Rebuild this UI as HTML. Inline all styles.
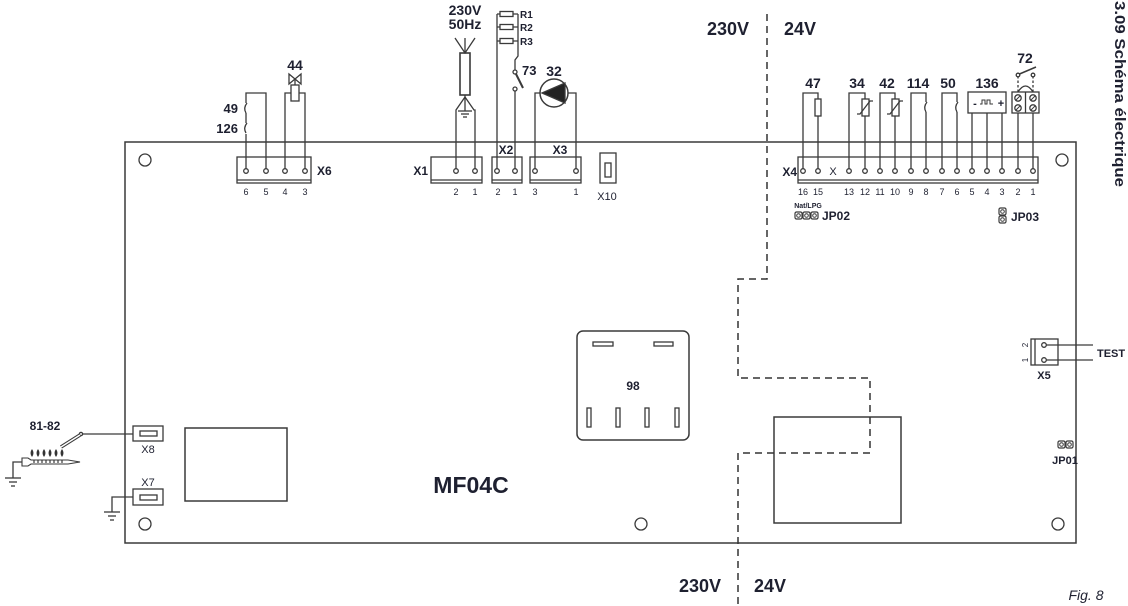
<!DOCTYPE html>
<html><head><meta charset="utf-8"><style>
html,body{margin:0;padding:0;background:#fff;}
svg{display:block;}
text{font-family:"Liberation Sans",Arial,sans-serif;fill:#1e2030;}
.b{font-weight:bold;}
.n{font-size:9px;fill:#2a2f48;}
</style></head><body>
<svg width="1128" height="606" viewBox="0 0 1128 606" xmlns="http://www.w3.org/2000/svg">
<g fill="none" stroke="#3a3a3a" stroke-width="1.3">
<!-- board -->
<rect x="125" y="142" width="951" height="401" stroke-width="1.5"/>
<circle cx="145" cy="160" r="6"/>
<circle cx="1062" cy="160" r="6"/>
<circle cx="145" cy="524" r="6"/>
<circle cx="641" cy="524" r="6"/>
<circle cx="1058" cy="524" r="6"/>

<!-- X6 -->
<rect x="237" y="157" width="74" height="26"/>
<line x1="237" y1="180" x2="311" y2="180"/>
<circle cx="246" cy="171" r="2.3"/><circle cx="266" cy="171" r="2.3"/><circle cx="285" cy="171" r="2.3"/><circle cx="305" cy="171" r="2.3"/>
<polyline points="246,168.5 246,134"/>
<polyline points="246,123 246,113"/>
<polyline points="246,103 246,93 266,93 266,168.5"/>
<path d="M247,103 q-4,5 -1,10"/>
<path d="M247,123 q-4,5 -1,10"/>
<polyline points="285,168.5 285,93 305,93 305,168.5"/>
<rect x="291" y="85" width="8" height="16" fill="#fff"/>
<line x1="295" y1="79" x2="295" y2="85"/>
<path d="M289,74 L301,84 L301,74 L289,84 Z"/>

<!-- X1 -->
<rect x="431" y="157" width="51" height="26"/>
<line x1="431" y1="180" x2="482" y2="180"/>
<circle cx="456" cy="171" r="2.3"/><circle cx="475" cy="171" r="2.3"/>
<polyline points="456,168.5 456,110 465,97 474,110 475,110 475,168.5"/>
<line x1="465" y1="97" x2="465" y2="111"/>
<line x1="458" y1="111" x2="472" y2="111"/>
<line x1="461" y1="114" x2="469" y2="114"/>
<line x1="463" y1="117" x2="467" y2="117"/>
<rect x="460" y="53" width="10" height="42" stroke-width="1.6"/>
<line x1="465" y1="95" x2="465" y2="97"/>
<polyline points="455,38 465,53 475,38"/>
<line x1="465" y1="38" x2="465" y2="53"/>

<!-- X2 -->
<rect x="492" y="157" width="30" height="26"/>
<line x1="492" y1="180" x2="522" y2="180"/>
<circle cx="497" cy="171" r="2.3"/><circle cx="515" cy="171" r="2.3"/>
<polyline points="497,168.5 497,14"/>
<line x1="497" y1="14" x2="518" y2="14"/>
<line x1="497" y1="27" x2="518" y2="27"/>
<line x1="497" y1="41" x2="518" y2="41"/>
<rect x="500" y="11.5" width="13" height="5" fill="#fff"/>
<rect x="500" y="24.5" width="13" height="5" fill="#fff"/>
<rect x="500" y="38.5" width="13" height="5" fill="#fff"/>
<polyline points="518,14 518,56 515,60 515,70"/>
<circle cx="515" cy="72" r="2"/>
<line x1="516" y1="74" x2="523" y2="88" stroke-width="2"/>
<circle cx="515" cy="89" r="2"/>
<line x1="515" y1="91" x2="515" y2="168.5"/>

<!-- X3 -->
<rect x="530" y="157" width="51" height="26"/>
<line x1="530" y1="180" x2="581" y2="180"/>
<circle cx="535" cy="171" r="2.3"/><circle cx="576" cy="171" r="2.3"/>
<polyline points="535,168.5 535,93 540,93"/>
<polyline points="568,93 576,93 576,168.5"/>
<circle cx="554" cy="93" r="14" stroke-width="1.5"/>
<polygon points="542,93 565,83 565,103" fill="#222"/>

<!-- X10 -->
<rect x="600" y="153" width="16" height="30"/>
<rect x="605" y="163" width="6" height="14"/>

<!-- X4 -->
<rect x="798" y="157" width="240" height="26"/>
<line x1="798" y1="180" x2="1038" y2="180"/>
<circle cx="803" cy="171" r="2.3"/><circle cx="818" cy="171" r="2.3"/>
<circle cx="849" cy="171" r="2.3"/><circle cx="865" cy="171" r="2.3"/>
<circle cx="880" cy="171" r="2.3"/><circle cx="895" cy="171" r="2.3"/>
<circle cx="911" cy="171" r="2.3"/><circle cx="926" cy="171" r="2.3"/>
<circle cx="942" cy="171" r="2.3"/><circle cx="957" cy="171" r="2.3"/>
<circle cx="972" cy="171" r="2.3"/><circle cx="987" cy="171" r="2.3"/>
<circle cx="1002" cy="171" r="2.3"/><circle cx="1018" cy="171" r="2.3"/>
<circle cx="1033" cy="171" r="2.3"/>
<!-- 47 -->
<polyline points="803,168.5 803,93 818,93 818,168.5"/>
<rect x="815" y="99" width="6" height="17" fill="#fff"/>
<!-- 34 -->
<polyline points="849,168.5 849,93 865,93 865,168.5"/>
<rect x="862" y="99" width="7" height="17" fill="#fff"/>
<polyline points="857,114 860,114 870,101 873,101"/>
<!-- 42 -->
<polyline points="880,168.5 880,93 895,93 895,168.5"/>
<rect x="892" y="99" width="7" height="17" fill="#fff"/>
<polyline points="887,114 890,114 900,101 903,101"/>
<!-- 114 -->
<polyline points="911,168.5 911,93 926,93 926,102"/>
<line x1="926" y1="112" x2="926" y2="168.5"/>
<path d="M927,102 q-4,5 -1,10"/>
<!-- 50 -->
<polyline points="942,168.5 942,93 957,93 957,102"/>
<line x1="957" y1="112" x2="957" y2="168.5"/>
<path d="M958,102 q-4,5 -1,10"/>
<!-- 136 -->
<rect x="968" y="92" width="38" height="21"/>
<line x1="972" y1="113" x2="972" y2="168.5"/>
<line x1="987" y1="113" x2="987" y2="168.5"/>
<line x1="1002" y1="113" x2="1002" y2="168.5"/>
<polyline points="980,104 982,104 982,100 985,100 985,104 987,104 987,100 990,100 990,104 993,104" stroke-width="1"/>
<!-- 72 -->
<rect x="1012" y="92" width="27" height="21"/>
<line x1="1025.5" y1="92" x2="1025.5" y2="113"/>
<circle cx="1018" cy="98" r="3.2"/><circle cx="1033" cy="98" r="3.2"/>
<circle cx="1018" cy="108" r="3.2"/><circle cx="1033" cy="108" r="3.2"/>
<line x1="1016" y1="100" x2="1020" y2="96" stroke-width="1"/>
<line x1="1031" y1="100" x2="1035" y2="96" stroke-width="1"/>
<line x1="1016" y1="110" x2="1020" y2="106" stroke-width="1"/>
<line x1="1031" y1="110" x2="1035" y2="106" stroke-width="1"/>
<line x1="1018" y1="113" x2="1018" y2="168.5"/>
<line x1="1033" y1="113" x2="1033" y2="168.5"/>
<line x1="1018" y1="92" x2="1018" y2="77" stroke-dasharray="2.5,2"/>
<line x1="1033" y1="92" x2="1033" y2="77" stroke-dasharray="2.5,2"/>
<path d="M1018,92 Q1025.5,80 1033,92"/>
<circle cx="1018" cy="75" r="1.8"/><circle cx="1033" cy="75" r="1.8"/>
<line x1="1019.5" y1="74" x2="1036" y2="67" stroke-width="1.5"/>

<!-- JP02 -->
<rect x="795" y="212" width="7" height="7" rx="1.5" stroke-width="1.2"/>
<rect x="803" y="212" width="7" height="7" rx="1.5" stroke-width="1.2"/>
<rect x="811" y="212" width="7" height="7" rx="1.5" stroke-width="1.2"/>
<circle cx="798.5" cy="215.5" r="1.8" stroke-width="1"/>
<circle cx="806.5" cy="215.5" r="1.8" stroke-width="1"/>
<circle cx="814.5" cy="215.5" r="1.8" stroke-width="1"/>
<!-- JP03 -->
<rect x="999" y="208" width="7" height="7" rx="1.5" stroke-width="1.2"/>
<rect x="999" y="216" width="7" height="7" rx="1.5" stroke-width="1.2"/>
<circle cx="1002.5" cy="211.5" r="1.8" stroke-width="1"/>
<circle cx="1002.5" cy="219.5" r="1.8" stroke-width="1"/>
<!-- JP01 -->
<rect x="1058" y="441" width="7" height="7" rx="1.5" stroke-width="1.2"/>
<rect x="1066" y="441" width="7" height="7" rx="1.5" stroke-width="1.2"/>
<circle cx="1061.5" cy="444.5" r="1.8" stroke-width="1"/>
<circle cx="1069.5" cy="444.5" r="1.8" stroke-width="1"/>

<!-- X5 -->
<rect x="1031" y="339" width="27" height="26"/>
<line x1="1035" y1="339" x2="1035" y2="365"/>
<circle cx="1044" cy="345" r="2.3"/><circle cx="1044" cy="360" r="2.3"/>
<line x1="1046.5" y1="345" x2="1093" y2="345"/>
<line x1="1046.5" y1="360" x2="1093" y2="360"/>

<!-- relay 98 -->
<rect x="577" y="331" width="112" height="109" rx="6" stroke-width="1.5"/>
<rect x="593" y="342" width="20" height="4"/>
<rect x="654" y="342" width="19" height="4"/>
<rect x="587" y="408" width="4" height="19"/>
<rect x="616" y="408" width="4" height="19"/>
<rect x="645" y="408" width="4" height="19"/>
<rect x="675" y="408" width="4" height="19"/>

<!-- rectangles -->
<rect x="774" y="417" width="127" height="106" stroke-width="1.5"/>
<rect x="185" y="428" width="102" height="73" stroke-width="1.5"/>

<!-- X8 / electrode -->
<rect x="133" y="426" width="30" height="15"/>
<rect x="140" y="431" width="17" height="5"/>
<line x1="82" y1="434" x2="133" y2="434"/>
<circle cx="81" cy="434" r="1.6"/>
<line x1="61" y1="447" x2="80" y2="435" stroke-width="3.6"/>
<line x1="61" y1="447" x2="80" y2="435" stroke="#fff" stroke-width="1.4"/>
<path d="M22,458 L28,458 L31,460 L68,460 L80,462 L68,464 L31,464 L28,466 L22,466 Z" stroke-width="1.1"/>
<g stroke-width="1.2">
<line x1="34" y1="460" x2="34" y2="463"/><line x1="38" y1="460" x2="38" y2="463"/><line x1="42" y1="460" x2="42" y2="463"/><line x1="46" y1="460" x2="46" y2="463"/><line x1="50" y1="460" x2="50" y2="463"/><line x1="54" y1="460" x2="54" y2="463"/><line x1="58" y1="460" x2="58" y2="463"/><line x1="62" y1="460" x2="62" y2="463"/>
</g>
<g fill="#333" stroke="none">
<path d="M32,457 q-3,-4 0,-8 q3,4 0,8z"/>
<path d="M38,457 q-3,-4 0,-8 q3,4 0,8z"/>
<path d="M44,457 q-3,-4 0,-8 q3,4 0,8z"/>
<path d="M50,457 q-3,-4 0,-8 q3,4 0,8z"/>
<path d="M56,457 q-3,-4 0,-8 q3,4 0,8z"/>
<path d="M62,457 q-3,-4 0,-8 q3,4 0,8z"/>
</g>
<polyline points="22,462 13,462 13,478"/>
<line x1="5" y1="478" x2="21" y2="478"/>
<line x1="9" y1="482" x2="17" y2="482"/>
<line x1="11" y1="486" x2="15" y2="486"/>

<!-- X7 -->
<rect x="133" y="489" width="30" height="16"/>
<rect x="140" y="495" width="17" height="5"/>
<polyline points="133,497 112,497 112,512"/>
<line x1="104" y1="512" x2="120" y2="512"/>
<line x1="108" y1="516" x2="116" y2="516"/>
<line x1="110" y1="520" x2="114" y2="520"/>

<!-- dashed separation -->
<path d="M767,14 L767,279 L738,279 L738,378 L870,378 L870,453 L738,453 L738,606" stroke="#333" stroke-width="1.5" stroke-dasharray="7,5"/>
</g>

<!-- labels -->
<g class="b" font-size="13">
<text x="238" y="113" text-anchor="end">49</text>
<text x="238" y="133" text-anchor="end">126</text>
<text x="295" y="70" text-anchor="middle" font-size="14">44</text>
<text x="465" y="15" text-anchor="middle" font-size="14">230V</text>
<text x="465" y="29" text-anchor="middle" font-size="14">50Hz</text>
<text x="522" y="75">73</text>
<text x="554" y="76" text-anchor="middle" font-size="14">32</text>
<text x="813" y="88" text-anchor="middle" font-size="14">47</text>
<text x="857" y="88" text-anchor="middle" font-size="14">34</text>
<text x="887" y="88" text-anchor="middle" font-size="14">42</text>
<text x="918" y="88" text-anchor="middle" font-size="14">114</text>
<text x="948" y="88" text-anchor="middle" font-size="14">50</text>
<text x="987" y="88" text-anchor="middle" font-size="14">136</text>
<text x="1025" y="63" text-anchor="middle" font-size="14">72</text>
<text x="45" y="430" text-anchor="middle" font-size="12">81-82</text>
</g>
<g class="b" font-size="10">
<text x="520" y="18">R1</text>
<text x="520" y="31">R2</text>
<text x="520" y="45">R3</text>
</g>
<g class="b" font-size="12">
<text x="317" y="175">X6</text>
<text x="428" y="175" text-anchor="end">X1</text>
<text x="506" y="154" text-anchor="middle">X2</text>
<text x="560" y="154" text-anchor="middle">X3</text>
<text x="797" y="176" text-anchor="end">X4</text>
<text x="822" y="220">JP02</text>
<text x="1011" y="221">JP03</text>
<text x="1044" y="379" text-anchor="middle" font-size="11">X5</text>
<text x="1097" y="357" font-size="11">TEST</text>
<text x="1065" y="464" text-anchor="middle" font-size="11">JP01</text>
<text x="633" y="390" text-anchor="middle" font-size="12" fill="#1c2f66">98</text>
</g>
<text x="808" y="208" text-anchor="middle" font-size="7" class="b">Nat/LPG</text>
<text x="607" y="200" text-anchor="middle" font-size="11">X10</text>
<text x="148" y="453" text-anchor="middle" font-size="11">X8</text>
<text x="148" y="486" text-anchor="middle" font-size="11">X7</text>
<text x="833" y="175" text-anchor="middle" font-size="11" fill="#2a3a70">X</text>
<text x="975" y="107" text-anchor="middle" font-size="11" class="b">-</text>
<text x="1001" y="107" text-anchor="middle" font-size="11" class="b" fill="#b02020">+</text>
<text transform="translate(1028,345) rotate(-90)" text-anchor="middle" font-size="8">2</text>
<text transform="translate(1028,360) rotate(-90)" text-anchor="middle" font-size="8">1</text>

<!-- pin numbers -->
<g class="n" text-anchor="middle">
<text x="246" y="195">6</text><text x="266" y="195">5</text><text x="285" y="195">4</text><text x="305" y="195">3</text>
<text x="456" y="195">2</text><text x="475" y="195">1</text>
<text x="498" y="195">2</text><text x="515" y="195">1</text>
<text x="535" y="195">3</text><text x="576" y="195">1</text>
<text x="803" y="195">16</text><text x="818" y="195">15</text>
<text x="849" y="195">13</text><text x="865" y="195">12</text>
<text x="880" y="195">11</text><text x="895" y="195">10</text>
<text x="911" y="195">9</text><text x="926" y="195">8</text>
<text x="942" y="195">7</text><text x="957" y="195">6</text>
<text x="972" y="195">5</text><text x="987" y="195">4</text>
<text x="1002" y="195">3</text><text x="1018" y="195">2</text>
<text x="1033" y="195">1</text>
</g>

<!-- big labels -->
<g class="b" font-size="18" text-anchor="middle">
<text x="728" y="35">230V</text>
<text x="800" y="35">24V</text>
<text x="700" y="592">230V</text>
<text x="770" y="592">24V</text>
</g>
<text x="471" y="493" text-anchor="middle" font-size="23" class="b">MF04C</text>
<text x="1086" y="600" text-anchor="middle" font-size="14" font-style="italic">Fig. 8</text>
<text transform="translate(1115,1) rotate(90)" font-size="15" class="b" textLength="186" lengthAdjust="spacingAndGlyphs">3.09 Schéma électrique</text>
</svg>
</body></html>
